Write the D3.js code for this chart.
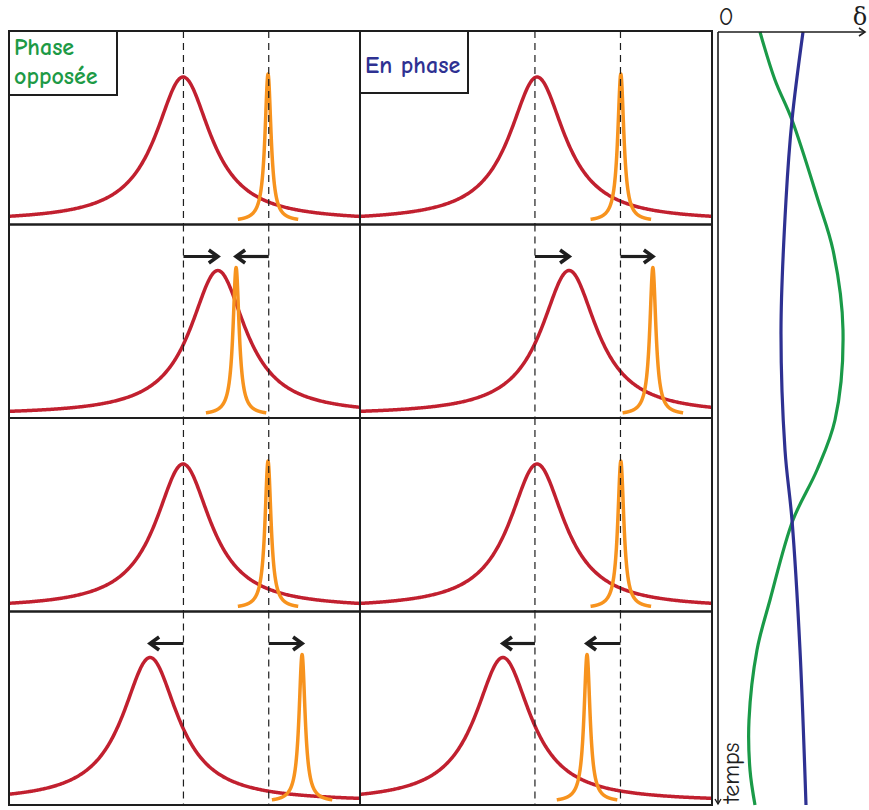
<!DOCTYPE html>
<html><head><meta charset="utf-8">
<script src="https://cdn.jsdelivr.net/npm/d3@7"></script>
<style>body{margin:0;background:#fff} svg{display:block}</style>
</head><body><svg id="c" width="869" height="810"></svg>
<script>
// ---------- data ----------
const columnLabels = ["Phase opposée", "En phase"];
const labelLines = [["Phase", "opposée"], ["En phase"]];
const labelColors = ["#1d9a46", "#2e3192"];
const rowIds = [0, 1, 2, 3];
// reference (rest) positions, panel units 0-100
const refRed = 49.7, refOrange = 74;
// peak centres per column / per row (panel units)
const redCenters = [[49.6, 59.5, 49.6, 40.2], [50.3, 59.4, 50.3, 40.6]];
const orangeCenters = [[73.8, 64.7, 73.8, 83.5], [74.1, 83.2, 74.1, 64.5]];
const redWidth = 9.6, orangeWidth = 1.05, orangeSpan = 8.6, orangeHeight = 1.02;
// right plot: delta (0-150) vs time (0-773)
const greenTime = [0, 48, 88, 168, 218, 298, 388, 438, 488, 568, 618, 688, 738, 773];
const greenDelta = [42, 57, 74, 100, 115, 125, 117, 99, 75, 52, 39, 31, 32, 37];
const blueTime = [0, 88, 168, 298, 418, 488, 618, 773];
const blueDelta = [85, 74, 68, 63, 67, 74, 82, 88];

// ---------- layout ----------
const svg = d3.select("#c");
const colX = [[9, 360], [360, 712]];
const rowY = d3.scaleBand().domain(rowIds).range([31, 805]).padding(0);
const RED = "#c1202f", ORANGE = "#f7931e", INK = "#1e1e1e";
const font = "'Comic Sans MS','Comic Neue','DejaVu Sans',sans-serif";

function lorentz(x, c, g, a) { return a / (1 + ((x - c) / g) ** 2); }

const defs = svg.append("defs");

columnLabels.forEach((lab, ci) => {
  const x = d3.scaleLinear().domain([0, 100]).range(colX[ci]);
  rowIds.forEach(ri => {
    const top = rowY(ri), bot = top + rowY.bandwidth();
    const y = d3.scaleLinear().domain([0, 1]).range([bot - 3, top + 46]);
    const g = svg.append("g");
    const clipId = `clip${ci}${ri}`;
    defs.append("clipPath").attr("id", clipId).append("rect")
      .attr("x", colX[ci][0]).attr("y", top).attr("width", colX[ci][1] - colX[ci][0]).attr("height", bot - top);
    const cg = g.append("g").attr("clip-path", `url(#${clipId})`);
    const line = d3.line().x(d => x(d[0])).y(d => y(d[1]));
    const rc = redCenters[ci][ri];
    const redPts = d3.range(0, 100.01, 0.25).map(v => [v, lorentz(v, rc, redWidth, 1)]);
    cg.append("path").attr("d", line(redPts)).attr("fill", "none")
      .attr("stroke", RED).attr("stroke-width", 3.5);
    const oc = orangeCenters[ci][ri];
    const orPts = d3.range(oc - orangeSpan, oc + orangeSpan + 0.001, 0.05).map(v => [v, lorentz(v, oc, orangeWidth, orangeHeight)]);
    cg.append("path").attr("d", line(orPts)).attr("fill", "none")
      .attr("stroke", ORANGE).attr("stroke-width", 3.5).attr("stroke-linejoin", "round");
    // dashed reference lines
    [refRed, refOrange].forEach(r => {
      g.append("line").attr("x1", x(r)).attr("x2", x(r)).attr("y1", top).attr("y2", bot)
        .attr("stroke", INK).attr("stroke-width", 1.2).attr("stroke-dasharray", "7,5");
    });
    // arrows
    const ay = top + 32;
    [[refRed, rc], [refOrange, oc]].forEach(([from, to]) => {
      if (Math.abs(to - from) < 1) return;
      const x1 = x(from), x2 = x(to), dir = Math.sign(x2 - x1);
      g.append("line").attr("x1", x1).attr("x2", x2 - dir * 1.5).attr("y1", ay).attr("y2", ay)
        .attr("stroke", INK).attr("stroke-width", 3.2);
      g.append("path").attr("d", `M${x2 - dir * 9},${ay - 6.5} L${x2},${ay} L${x2 - dir * 9},${ay + 6.5}`)
        .attr("fill", "none").attr("stroke", INK).attr("stroke-width", 3.6).attr("stroke-linejoin", "miter");
    });
    // panel border
    g.append("rect").attr("x", colX[ci][0]).attr("y", top).attr("width", colX[ci][1] - colX[ci][0]).attr("height", bot - top)
      .attr("fill", "none").attr("stroke", INK).attr("stroke-width", 2);
  });
  // label box
  const bw = 108, bh = ci === 0 ? 64 : 62;
  svg.append("rect").attr("x", colX[ci][0]).attr("y", 31).attr("width", bw).attr("height", bh)
    .attr("fill", "#fff").attr("stroke", INK).attr("stroke-width", 2);
  const t = svg.append("text").attr("fill", labelColors[ci])
    .attr("font-family", font).attr("font-size", 24).attr("font-weight", "bold");
  labelLines[ci].forEach((s, i) => {
    t.append("tspan").attr("x", colX[ci][0] + 5).attr("y", ci === 0 ? 55 + i * 29 : 73).text(s);
  });
});

// ---------- right plot ----------
const dx = d3.scaleLinear().domain([0, 150]).range([718, 868]);
const ty = d3.scaleLinear().domain([0, 773]).range([32, 805]);
const cl = d3.line().x(d => dx(d[1])).y(d => ty(d[0])).curve(d3.curveCatmullRom);
svg.append("path").attr("d", cl(greenTime.map((t, i) => [t, greenDelta[i]])))
  .attr("fill", "none").attr("stroke", "#1a9a48").attr("stroke-width", 3.2);
svg.append("path").attr("d", cl(blueTime.map((t, i) => [t, blueDelta[i]])))
  .attr("fill", "none").attr("stroke", "#2e3192").attr("stroke-width", 3.2);
// axes
svg.append("line").attr("x1", dx(0)).attr("x2", dx(147)).attr("y1", ty(0)).attr("y2", ty(0))
  .attr("stroke", INK).attr("stroke-width", 1.6);
svg.append("path").attr("d", `M${dx(147) - 6},${ty(0) - 4} L${dx(147)},${ty(0)} L${dx(147) - 6},${ty(0) + 4}`)
  .attr("fill", "none").attr("stroke", INK).attr("stroke-width", 1.6);
svg.append("line").attr("x1", dx(0)).attr("x2", dx(0)).attr("y1", ty(0)).attr("y2", ty(772))
  .attr("stroke", INK).attr("stroke-width", 1.6);
svg.append("path").attr("d", `M${dx(0) - 3},${ty(772) - 5} L${dx(0)},${ty(772)} L${dx(0) + 3},${ty(772) - 5}`)
  .attr("fill", "none").attr("stroke", INK).attr("stroke-width", 1.4);
svg.append("text").attr("x", dx(8)).attr("y", 25).attr("text-anchor", "middle")
  .attr("font-family", font).attr("font-size", 25).attr("fill", INK).text("0");
svg.append("text").attr("x", dx(142)).attr("y", 25).attr("text-anchor", "middle")
  .attr("font-family", "'DejaVu Serif',serif").attr("font-size", 24).attr("fill", INK).text("δ");
svg.append("text").attr("transform", `translate(${dx(21)},${ty(771)}) rotate(-90)`)
  .attr("font-family", font).attr("font-size", 24).attr("fill", INK).text("temps");
</script></body></html>
